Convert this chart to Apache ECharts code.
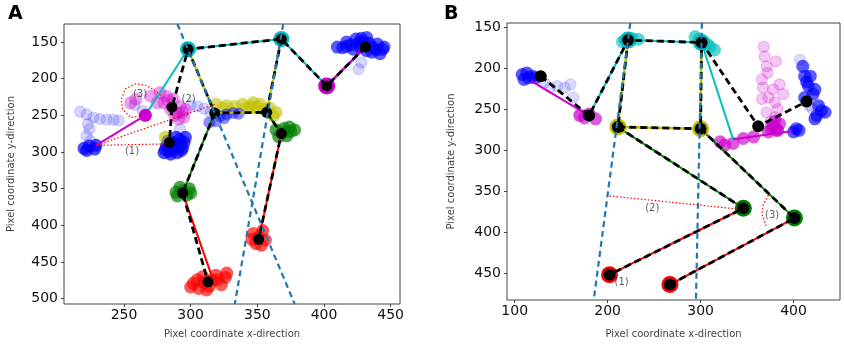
<!DOCTYPE html>
<html>
<head>
<meta charset="utf-8">
<script src="https://cdn.jsdelivr.net/npm/echarts@6/dist/echarts.min.js"></script>
<style>
  html, body { margin: 0; padding: 0; background: #fff; }
  #chart { width: 844px; height: 344px; }
</style>
</head>
<body>
<div id="chart"></div>
<script>
// tick labels
const xTicksA = [250, 300, 350, 400, 450];
const yTicksA = [150, 200, 250, 300, 350, 400, 450, 500];
const xTicksB = [100, 200, 300, 400];
const yTicksB = [150, 200, 250, 300, 350, 400, 450];

// ---- panel A : keypoints (black, dashed skeleton)
const blackA = [[298,160],[368,146],[402,210],[431,157],[286,239],[284,287],[318,247],[357,246],[368,275],[294,356],[351,419],[313,477]];
const dashA1 = [[431,157],[402,210],[368,146],[298,160],[286,239],[284,287]];
const dashA2 = [[298,160],[318,247],[357,246],[368,275],[351,419]];
const dashA3 = [[318,247],[294,356],[313,477]];
const dashA4 = [[368,146],[357,246]];
// panel A : coloured skeleton
const cyanA = [[266,250],[298,160],[368,146],[402,210]];
const magentaA1 = [[229,291],[266,250]];
const magentaA2 = [[402,210],[431,157]];
const yellowA1 = [[368,146],[357,246],[318,247]];
const yellowA2 = [[298,160],[318,247]];
const greenA1 = [[318,247],[294,356]];
const greenA2 = [[357,246],[368,275]];
const redA1 = [[294,356],[316,470]];
const redA2 = [[368,275],[351,419]];
// panel A : trajectories
const blueFaintA = [[217,245],[222,249],[227,253],[232,255],[237,256],[242,256],[246,257],[223,262],[224,269],[222,278],[225,285],[305,238],[310,241],[315,246],[292,269],[428,178],[426,187],[264,244],[258,236],[300,236]];
const blueSolidA = [[220,295],[228,296],[229,291],[224,292],[222,298],[282,292],[287,287],[292,283],[296,280],[290,301],[285,303],[280,301],[294,294],[286,296],[291,289],[283,285],[288,294],[281,297],[293,298],[295,287],[289,280],[284,299]];
const magentaCloudA = [[277,219],[282,224],[280,233],[285,242],[290,247],[295,253],[292,238],[275,233],[255,233],[259,228],[287,228],[296,242],[270,224],[288,250],[294,246],[283,230],[291,255]];
const blueTopA = [[410,157],[417,150],[424,146],[432,144],[440,153],[444,160],[442,166],[436,164],[427,157],[422,160],[414,158],[430,150],[437,158],[420,154],[426,151],[434,152],[445,157],[439,161],[432,162],[417,156],[428,145]];
const yellowCloudA = [[319,235],[324,240],[339,235],[347,233],[352,235],[359,240],[362,251],[342,240],[333,238],[281,280],[355,242],[345,238],[327,237],[364,246],[350,239]];
const blueMidA = [[322,251],[327,249],[332,247],[314,260],[319,258],[336,248],[325,254]];
const greenCloudA = [[292,348],[299,350],[289,355],[297,359],[294,353],[290,360],[300,356],[364,270],[370,268],[375,272],[372,278],[366,279],[378,270],[369,274],[374,266]];
const redCloudA = [[302,479],[309,470],[319,468],[327,465],[323,481],[314,483],[306,486],[300,484],[316,475],[310,478],[320,474],[305,474],[326,471],[312,488],[347,411],[354,407],[349,425],[356,420],[351,416],[346,419],[353,427]];
const ringCyanA = [[298,160],[368,146]];
const ringMagentaA = [[402,210]];
const dotMagentaA = [[266,250]];
// panel A : reference lines and angles
const refA1 = [[290,125.6],[378,507.2]];
const refA2 = [[369.4,125.6],[333.1,507.2]];
const angA1 = [[318,235],[229,291],[282,289]];
const angA3 = [[262,251],[255,253],[249,242],[248,228],[251,214],[259,207],[267,209.5],[274,217],[278,224]];
const labelsA = [[256,299,'(1)'],[298.5,228,'(2)'],[262,221,'(3)']];

// ---- panel B
const blackB = [[222,166],[301,169],[128,210],[180,258],[211,272],[300,274],[362,271],[414,241],[346,371],[401,383],[202,452],[267,464]];
const dashB1 = [[128,210],[180,258],[222,166],[301,169],[362,271],[414,241]];
const dashB2 = [[222,166],[211,272],[300,274],[301,169]];
const dashB3 = [[211,272],[346,371],[202,452]];
const dashB4 = [[300,274],[401,383],[267,464]];
const cyanB = [[180,258],[222,166],[301,169],[335,287]];
const magentaB1 = [[180,258],[118,216]];
const magentaB2 = [[335,287],[398,277]];
const yellowB = [[222,166],[211,272],[300,274],[301,169]];
const greenB1 = [[211,272],[346,371]];
const greenB2 = [[300,274],[401,383]];
const redB1 = [[346,371],[202,452]];
const redB2 = [[401,383],[267,464]];
const blueFaintB = [[138,224],[146,222],[154,224],[160,220],[163,236],[417,246],[407,190],[420,250],[132,218]];
const blueSolidB = [[108,208],[113,206],[119,210],[110,214],[115,212],[122,212],[410,198],[412,210],[416,222],[423,226],[421,232],[412,236],[430,252],[434,254],[423,262],[403,274],[400,278],[427,246],[418,210],[425,258],[414,217],[406,276]];
const magentaFaintB = [[368,174],[369,186],[371,198],[372,206],[366,214],[367,224],[366,238],[373,236],[385,220],[389,232],[380,242],[383,250],[371,254],[380,260],[375,266],[378,226],[170,256],[381,192]];
const magentaSolidB = [[378,270],[385,268],[376,274],[382,276],[380,265],[321,290],[326,294],[335,292],[346,286],[357,284],[373,278],[383,276],[170,258],[180,256],[187,262],[175,261]];
const cyanCloudB = [[219,166],[226,164],[233,165],[216,168],[294,162],[303,168],[310,174],[315,178],[298,165],[307,171]];
const ringCyanB = [[222,166],[301,169]];
const ringYellowB = [[211,272],[300,274]];
const ringGreenB = [[346,371],[401,383]];
const ringRedB = [[202,452],[267,464]];
const refB1 = [[224.4,145],[185,483]];
const refB2 = [[301.4,145],[295,483]];
const angB2 = [[202,356],[341,372]];
const angB3 = [[373,355],[367,368],[366,378],[371,394]];
const labelsB = [[215,461,'(1)'],[248,371,'(2)'],[377,380,'(3)']];

const C = { c:'#00bfbf', m:'#cc00cc', y:'#bfbf00', g:'#008000', r:'#ff0000', b:'#0000ff', ref:'#1f77b4' };

function sc(gi, data, color, size, op, z, bw) {
    return { type:'scatter', xAxisIndex:gi, yAxisIndex:gi, data:data, symbolSize:size, silent:true, z:z || 2,
        itemStyle:{ color:color, opacity:op, borderColor:color, borderWidth:bw === undefined ? 0 : bw } };
}
function ln(gi, data, color, width, dash, z) {
    return { type:'line', xAxisIndex:gi, yAxisIndex:gi, data:data, symbol:'none', silent:true, z:z || 3,
        lineStyle:{ color:color, width:width, type:dash || 'solid' } };
}
function labels(gi, arr) {
    return { type:'scatter', xAxisIndex:gi, yAxisIndex:gi, symbolSize:0, z:9, silent:true,
        data:arr.map(d => ({ value:[d[0], d[1]], name:d[2] })),
        label:{ show:true, position:'inside', formatter:'{b}', fontSize:10, color:'#333', fontFamily:'DejaVu Sans' } };
}

const dash = [7, 4];
const series = [
    // A clouds
    sc(0, blueFaintA, C.b, 11, 0.16, 2, 1.2),
    sc(0, magentaCloudA, C.m, 13, 0.38),
    sc(0, blueSolidA, C.b, 13, 0.7),
    sc(0, blueTopA, C.b, 13, 0.65),
    sc(0, yellowCloudA, C.y, 13, 0.6),
    sc(0, blueMidA, C.b, 12, 0.45),
    sc(0, greenCloudA, C.g, 13, 0.7),
    sc(0, redCloudA, C.r, 13, 0.65),
    sc(0, ringCyanA, C.c, 16, 1, 4),
    sc(0, ringMagentaA, C.m, 17, 1, 4),
    sc(0, dotMagentaA, C.m, 13, 1, 4),
    ln(0, cyanA, C.c, 2), ln(0, magentaA1, C.m, 2), ln(0, magentaA2, C.m, 2.5),
    ln(0, yellowA1, C.y, 2), ln(0, yellowA2, C.y, 2),
    ln(0, greenA1, C.g, 2), ln(0, greenA2, C.g, 2),
    ln(0, redA1, C.r, 2), ln(0, redA2, C.r, 2),
    ln(0, dashA1, '#000', 2.8, dash, 5), ln(0, dashA2, '#000', 2.8, dash, 5),
    ln(0, dashA3, '#000', 2.8, dash, 5), ln(0, dashA4, '#000', 2.8, dash, 5),
    sc(0, blackA, '#000', 11, 1, 6),
    ln(0, refA1, C.ref, 2.2, [6, 4], 7), ln(0, refA2, C.ref, 2.2, [6, 4], 7),
    ln(0, angA1, C.r, 1.2, [1.5, 2], 8), ln(0, angA3, C.r, 1.2, [1.5, 2], 8),
    labels(0, labelsA),
    // B clouds
    sc(1, blueFaintB, C.b, 11, 0.14, 2, 1.2),
    sc(1, magentaFaintB, C.m, 11, 0.22, 2, 1.2),
    sc(1, blueSolidB, C.b, 13, 0.65),
    sc(1, magentaSolidB, C.m, 13, 0.65),
    sc(1, cyanCloudB, C.c, 13, 0.65),
    sc(1, ringCyanB, C.c, 17, 1, 4),
    sc(1, ringYellowB, C.y, 17, 1, 4),
    sc(1, ringGreenB, C.g, 17, 1, 4),
    sc(1, ringRedB, C.r, 17, 1, 4),
    ln(1, cyanB, C.c, 2), ln(1, magentaB1, C.m, 2), ln(1, magentaB2, C.m, 2),
    ln(1, yellowB, C.y, 2.5),
    ln(1, greenB1, C.g, 2), ln(1, greenB2, C.g, 2),
    ln(1, redB1, C.r, 2), ln(1, redB2, C.r, 2),
    ln(1, dashB1, '#000', 2.8, dash, 5), ln(1, dashB2, '#000', 2.8, dash, 5),
    ln(1, dashB3, '#000', 2.8, dash, 5), ln(1, dashB4, '#000', 2.8, dash, 5),
    sc(1, blackB, '#000', 12, 1, 6),
    ln(1, refB1, C.ref, 2.2, [6, 4], 7), ln(1, refB2, C.ref, 2.2, [6, 4], 7),
    ln(1, angB2, C.r, 1.2, [1.5, 2], 8), ln(1, angB3, C.r, 1.2, [1.5, 2], 8),
    labels(1, labelsB)
];

const tickFont = { fontSize:14, color:'#111', fontFamily:'DejaVu Sans' };
const nameFont = { fontSize:10, color:'#444', fontFamily:'DejaVu Sans' };

function xAx(gi, min, max, ticks, gap) {
    return { type:'value', gridIndex:gi, min:min, max:max, splitLine:{ show:false },
        axisLine:{ show:false }, axisTick:{ show:true, length:3, customValues:ticks, lineStyle:{ color:'#444' } },
        axisLabel:Object.assign({ customValues:ticks, margin:4 }, tickFont),
        name:'Pixel coordinate x-direction', nameLocation:'middle', nameGap:gap, nameTextStyle:nameFont };
}
function yAx(gi, min, max, ticks, gap) {
    return { type:'value', gridIndex:gi, min:min, max:max, inverse:true, splitLine:{ show:false },
        axisLine:{ show:false }, axisTick:{ show:true, length:3, customValues:ticks, lineStyle:{ color:'#444' } },
        axisLabel:Object.assign({ customValues:ticks, margin:6 }, tickFont),
        name:'Pixel coordinate y-direction', nameLocation:'middle', nameGap:gap, nameTextStyle:nameFont };
}

const chart = echarts.init(document.getElementById('chart'));
chart.setOption({
    animation:false,
    backgroundColor:'#fff',
    title:[
        { text:'A', left:3, top:0, textStyle:{ fontSize:19, fontWeight:'bold', color:'#000', fontFamily:'DejaVu Sans' } },
        { text:'B', left:439, top:0, textStyle:{ fontSize:19, fontWeight:'bold', color:'#000', fontFamily:'DejaVu Sans' } }
    ],
    grid:[
        { left:64, top:24, width:336, height:282, show:true, borderColor:'#444', borderWidth:1 },
        { left:507, top:23, width:333, height:281, show:true, borderColor:'#444', borderWidth:1 }
    ],
    xAxis:[ xAx(0, 205, 457, xTicksA, 25), xAx(1, 91.7, 450, xTicksB, 29) ],
    yAxis:[ yAx(0, 125.6, 507.2, yTicksA, 48), yAx(1, 145.2, 482.8, yTicksB, 51) ],
    series:series
});
</script>
</body>
</html>
